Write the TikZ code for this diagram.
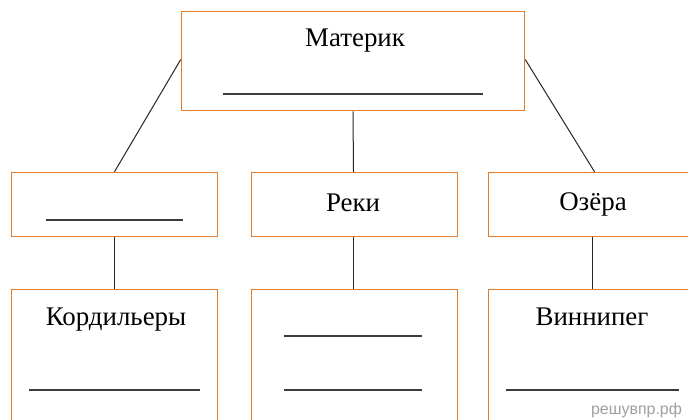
\documentclass[tikz,border=0pt]{standalone}
\usepackage{fontspec}
\setmainfont{Liberation Serif}
\newfontfamily\wmfont{Liberation Sans}
\definecolor{boxorange}{RGB}{226,124,40}
\definecolor{ruleline}{RGB}{60,60,60}
\definecolor{wmgray}{RGB}{160,160,160}
\tikzset{
  box/.style={draw=boxorange, line width=1.5bp, rectangle, inner sep=0pt, fill=none},
  openbox/.style={draw=none, rectangle, inner sep=0pt},
  lbl/.style={anchor=base, inner sep=0pt, font=\fontsize{27}{32}\selectfont},
  conn/.style={draw=black!85, line width=1bp},
  blank/.style={draw=ruleline, line width=1.5bp},
}
\begin{document}
\begin{tikzpicture}[x=1bp,y=-1bp]
\useasboundingbox[fill=white] (0,0) rectangle (688,419);
% boxes
\node[box, minimum width=343bp, minimum height=99bp] (top) at (353,61) {};
\node[box, minimum width=206bp, minimum height=64bp] (left) at (114.5,204.5) {};
\node[box, minimum width=206bp, minimum height=64bp] (mid) at (354.5,204.5) {};
\node[box, minimum width=206bp, minimum height=64bp] (right) at (591.5,204.5) {};
\node[openbox, minimum width=206bp, minimum height=130bp] (bleft) at (114.5,354.5) {};
\node[openbox, minimum width=206bp, minimum height=130bp] (bmid) at (354.5,354.5) {};
\node[openbox, minimum width=206bp, minimum height=130bp] (bright) at (591.5,354.5) {};
\foreach \b in {bleft,bmid,bright}{
  \draw[draw=boxorange, line width=1.5bp] (\b.south west) -- (\b.north west) -- (\b.north east) -- (\b.south east);
}
% texts
\node[lbl] (tmat) at (355,46.7) {Материк};
\node[lbl] (trek) at (353,211.5) {Реки};
\node[lbl] (toz) at (593,210.8) {Озёра};
\node[lbl] (tkord) at (116,325.7) {Кордильеры};
\node[lbl] (tvin) at (592,325.7) {Виннипег};
\node[anchor=base, inner sep=0pt, text=wmgray, font=\wmfont\fontsize{16}{18}\selectfont] (wm) at (636.5,414) {решувпр.рф};
% blank lines
\coordinate (m1) at (223,94); \coordinate (m2) at (483,94);
\draw[blank] (m1) -- (m2);
\coordinate (l1) at (46,220); \coordinate (l2) at (183,220);
\draw[blank] (l1) -- (l2);
\coordinate (k1) at (29,390); \coordinate (k2) at (200,390);
\draw[blank] (k1) -- (k2);
\coordinate (r1) at (284,336); \coordinate (r2) at (422,336);
\draw[blank] (r1) -- (r2);
\coordinate (r3) at (284,390); \coordinate (r4) at (422,390);
\draw[blank] (r3) -- (r4);
\coordinate (v1) at (506,390); \coordinate (v2) at (679,390);
\draw[blank] (v1) -- (v2);
% connectors
\draw[conn] ([yshift=1.5bp]top.west) -- (left.north);
\draw[conn] ([yshift=1.5bp]top.east) -- ([xshift=3bp]right.north);
\draw[conn] (top.south) -- ([xshift=-1bp]mid.north);
\draw[conn] ([xshift=-0.5bp]left.south) -- ([xshift=-0.5bp]bleft.north);
\draw[conn] ([xshift=-1bp]mid.south) -- ([xshift=-1bp]bmid.north);
\draw[conn] ([xshift=0.5bp]right.south) -- ([xshift=0.5bp]bright.north);
\end{tikzpicture}
\end{document}
